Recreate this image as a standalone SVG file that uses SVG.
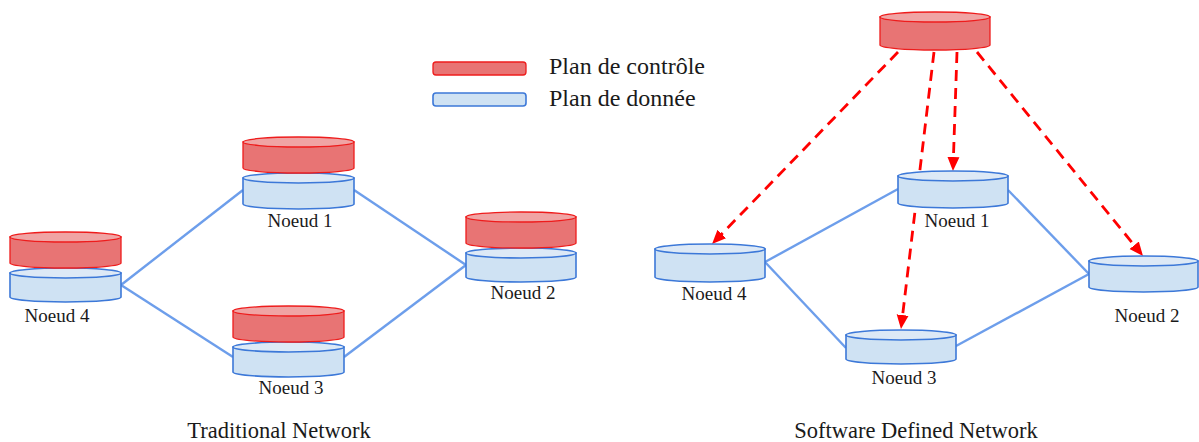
<svg xmlns="http://www.w3.org/2000/svg" width="1199" height="442" viewBox="0 0 1199 442">
<style>
.bg{fill:#ffffff}
.rb{fill:#e87474;stroke:#ee1c1c;stroke-width:1.3}
.rt{fill:#f0a4a4;stroke:#ee1c1c;stroke-width:1.3}
.bb{fill:#cfe2f3;stroke:#3c78d8;stroke-width:1.6}
.bt{fill:#dde9f6;stroke:#3c78d8;stroke-width:1.6}
.link{stroke:#6d9eeb;stroke-width:2.4;fill:none}
.ctl{stroke:#ff0000;stroke-width:2.8;fill:none;stroke-dasharray:11 7}
text{font-family:"Liberation Serif","Times New Roman",serif;fill:#1a1a1a}
.lbl{font-size:19px;text-anchor:middle}
.ttl{font-size:22.5px;text-anchor:middle}
.leg{font-size:24px}
</style>
<defs>
<marker id="ah" markerUnits="userSpaceOnUse" markerWidth="14" markerHeight="13" refX="7" refY="6.5" orient="auto">
<path d="M0,0.5 L14,6.5 L0,12.5 Z" fill="#ff0000"/>
</marker>
</defs>
<rect class="bg" x="0" y="0" width="1199" height="442"/>

<g id="connectors">
<line class="link" x1="121" y1="285" x2="243" y2="190"/>
<line class="link" x1="121" y1="285" x2="233" y2="357"/>
<line class="link" x1="354" y1="190" x2="466" y2="265"/>
<line class="link" x1="344" y1="357" x2="466" y2="265"/>
<line class="link" x1="765" y1="262" x2="898" y2="189"/>
<line class="link" x1="765" y1="262" x2="846" y2="348"/>
<line class="link" x1="1008" y1="190" x2="1089" y2="274"/>
<line class="link" x1="956" y1="346" x2="1089" y2="274"/>
<line class="ctl" x1="898" y1="52" x2="716.9" y2="239" marker-end="url(#ah)"/>
<line class="ctl" x1="934" y1="52" x2="901.8" y2="322" marker-end="url(#ah)"/>
<line class="ctl" x1="957" y1="52" x2="953.2" y2="164" marker-end="url(#ah)"/>
<line class="ctl" x1="977" y1="52" x2="1138.6" y2="250.6" marker-end="url(#ah)"/>
</g>

<g id="legend">
<rect class="rb" x="433" y="62" width="93" height="13" rx="3"/>
<rect class="bb" x="433" y="93" width="93" height="13" rx="3"/>
<text class="leg" x="549" y="74">Plan de contrôle</text>
<text class="leg" x="549" y="106">Plan de donnée</text>
</g>

<!-- Traditional network -->
<g id="t-noeud1">
<path class="bb" d="M243,178 L243,204 A55.5,5 0 0 0 354,204 L354,178 Z"/>
<ellipse class="bt" cx="298.5" cy="178" rx="55.5" ry="5"/>
<path class="rb" d="M243,142 L243,168 A55.5,5 0 0 0 354,168 L354,142 Z"/>
<ellipse class="rt" cx="298.5" cy="142" rx="55.5" ry="5"/>
<text class="lbl" x="300" y="227">Noeud 1</text>
</g>
<g id="t-noeud4">
<path class="bb" d="M10,273 L10,297 A55.5,5 0 0 0 121,297 L121,273 Z"/>
<ellipse class="bt" cx="65.5" cy="273" rx="55.5" ry="5"/>
<path class="rb" d="M10,237 L10,263 A55.5,5 0 0 0 121,263 L121,237 Z"/>
<ellipse class="rt" cx="65.5" cy="237" rx="55.5" ry="5"/>
<text class="lbl" x="57" y="322">Noeud 4</text>
</g>
<g id="t-noeud3">
<path class="bb" d="M233,347 L233,372 A55.5,5 0 0 0 344,372 L344,347 Z"/>
<ellipse class="bt" cx="288.5" cy="347" rx="55.5" ry="5"/>
<path class="rb" d="M233,311 L233,337 A55.5,5 0 0 0 344,337 L344,311 Z"/>
<ellipse class="rt" cx="288.5" cy="311" rx="55.5" ry="5"/>
<text class="lbl" x="291" y="394">Noeud 3</text>
</g>
<g id="t-noeud2">
<path class="bb" d="M466,253 L466,277 A55,5 0 0 0 576,277 L576,253 Z"/>
<ellipse class="bt" cx="521" cy="253" rx="55" ry="5"/>
<path class="rb" d="M466,217 L466,243 A55,5 0 0 0 576,243 L576,217 Z"/>
<ellipse class="rt" cx="521" cy="217" rx="55" ry="5"/>
<text class="lbl" x="523" y="299">Noeud 2</text>
</g>
<text class="ttl" x="279" y="438">Traditional Network</text>

<!-- SDN -->
<g id="controller">
<path class="rb" d="M880,17 L880,45 A55,5 0 0 0 990,45 L990,17 Z"/>
<ellipse class="rt" cx="935" cy="17" rx="55" ry="5"/>
</g>
<g id="s-noeud1">
<path class="bb" d="M898,176 L898,203 A55,5 0 0 0 1008,203 L1008,176 Z"/>
<ellipse class="bt" cx="953" cy="176" rx="55" ry="5"/>
<text class="lbl" x="957" y="227">Noeud 1</text>
</g>
<g id="s-noeud4">
<path class="bb" d="M655,249 L655,277 A55,5 0 0 0 765,277 L765,249 Z"/>
<ellipse class="bt" cx="710" cy="249" rx="55" ry="5"/>
<text class="lbl" x="714" y="300">Noeud 4</text>
</g>
<g id="s-noeud3">
<path class="bb" d="M846,335 L846,359 A55,5 0 0 0 956,359 L956,335 Z"/>
<ellipse class="bt" cx="901" cy="335" rx="55" ry="5"/>
<text class="lbl" x="904" y="384">Noeud 3</text>
</g>
<g id="s-noeud2">
<path class="bb" d="M1089,261 L1089,287 A54.5,5 0 0 0 1198,287 L1198,261 Z"/>
<ellipse class="bt" cx="1143.5" cy="261" rx="54.5" ry="5"/>
<text class="lbl" x="1147" y="322">Noeud 2</text>
</g>
<text class="ttl" x="916" y="438">Software Defined Network</text>
</svg>
